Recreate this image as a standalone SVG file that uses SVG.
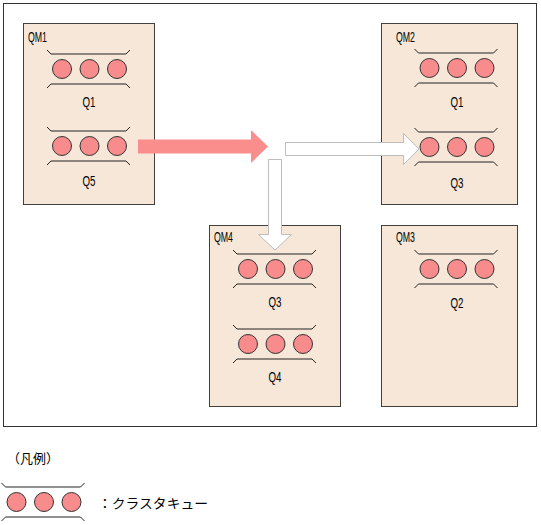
<svg xmlns="http://www.w3.org/2000/svg" width="541" height="525" viewBox="0 0 541 525">
<style>
.frame{fill:#fff;stroke:#333;stroke-width:1}
.qm{fill:#F6E7D8;stroke:#404040;stroke-width:1}
.bar{fill:none;stroke:#222;stroke-width:1}
.ball{fill:#F88C8C;stroke:#333;stroke-width:1}
.lbl{font-family:"Liberation Sans",Arial,sans-serif;font-size:14px;fill:#000}
.jp{font-family:"Noto Sans CJK JP","Noto Sans",sans-serif;font-size:13px;fill:#000}
.pink{fill:#F98E8C;stroke:none}
.white{fill:#fff;stroke:#BDBDBD;stroke-width:1}
</style>
<defs>
<g id="queue">
<path class="bar" d="M-42.5,-19 L-38.5,-15 L36.5,-15 L40.5,-19"/>
<path class="bar" d="M-42.5,19 L-38.5,15 L36.5,15 L40.5,19"/>
<circle class="ball" cx="-27.5" cy="0" r="9.5"/>
<circle class="ball" cx="0" cy="0" r="9.5"/>
<circle class="ball" cx="27.5" cy="0" r="9.5"/>
</g>
</defs>
<rect class="frame" x="3.5" y="3.5" width="533" height="423"/>
<g id="QM1">
<rect class="qm" x="23.5" y="23.5" width="131" height="181"/>
<text class="lbl" x="28" y="42" textLength="19" lengthAdjust="spacingAndGlyphs">QM1</text>
<use href="#queue" x="89.5" y="69"/>
<text class="lbl" x="89" y="107" text-anchor="middle" textLength="13" lengthAdjust="spacingAndGlyphs">Q1</text>
<use href="#queue" x="89.5" y="146"/>
<text class="lbl" x="89" y="186" text-anchor="middle" textLength="13" lengthAdjust="spacingAndGlyphs">Q5</text>
</g>
<g id="QM2">
<rect class="qm" x="381.5" y="23.5" width="136" height="181"/>
<text class="lbl" x="396" y="42" textLength="19" lengthAdjust="spacingAndGlyphs">QM2</text>
<use href="#queue" x="457" y="68"/>
<text class="lbl" x="457" y="106.5" text-anchor="middle" textLength="13" lengthAdjust="spacingAndGlyphs">Q1</text>
<use href="#queue" x="457" y="147"/>
<text class="lbl" x="457" y="187.5" text-anchor="middle" textLength="13" lengthAdjust="spacingAndGlyphs">Q3</text>
</g>
<g id="QM4">
<rect class="qm" x="209.5" y="225.5" width="131" height="181"/>
<text class="lbl" x="214" y="242" textLength="19" lengthAdjust="spacingAndGlyphs">QM4</text>
<use href="#queue" x="275.5" y="269"/>
<text class="lbl" x="275" y="306.5" text-anchor="middle" textLength="13" lengthAdjust="spacingAndGlyphs">Q3</text>
<use href="#queue" x="275.5" y="344"/>
<text class="lbl" x="275" y="381.5" text-anchor="middle" textLength="13" lengthAdjust="spacingAndGlyphs">Q4</text>
</g>
<g id="QM3">
<rect class="qm" x="381.5" y="225.5" width="136" height="181"/>
<text class="lbl" x="396" y="242" textLength="19" lengthAdjust="spacingAndGlyphs">QM3</text>
<use href="#queue" x="457" y="269"/>
<text class="lbl" x="457" y="307.5" text-anchor="middle" textLength="13" lengthAdjust="spacingAndGlyphs">Q2</text>
</g>
<g id="connectors">
<polygon class="pink" points="138,139.5 251,139.5 251,130 268,146.5 251,163 251,153.5 138,153.5"/>
<polygon class="white" points="285.5,142.5 403.5,142.5 403.5,133.5 419,149 403.5,164.5 403.5,155.5 285.5,155.5"/>
<polygon class="white" points="268.5,159.5 281.5,159.5 281.5,234.5 291.5,234.5 275,250 258.5,234.5 268.5,234.5"/>
</g>
<g id="legend">
<text class="jp" x="7" y="463">（凡例）</text>
<use href="#queue" x="44" y="502"/>
<text class="jp" x="98" y="508" textLength="110" lengthAdjust="spacingAndGlyphs">：クラスタキュー</text>
</g>
</svg>
